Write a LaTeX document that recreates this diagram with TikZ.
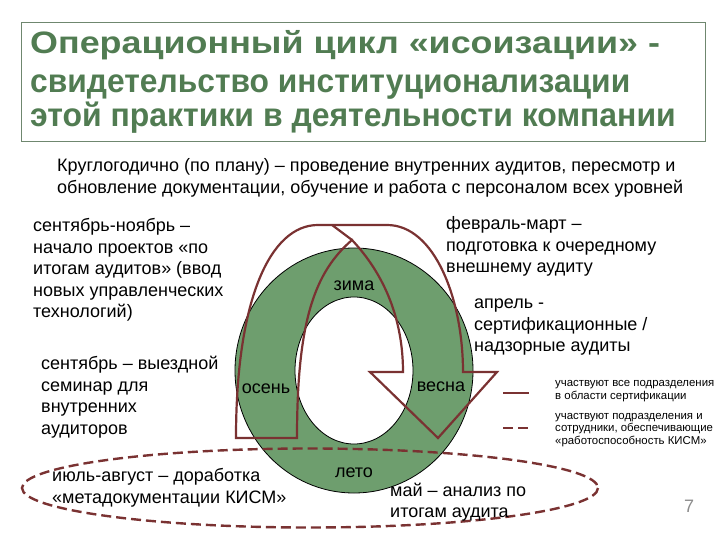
\documentclass[tikz,border=0pt]{standalone}
\usepackage{fontspec}
\usepackage{graphicx}
\setmainfont{Liberation Sans}
\definecolor{ringgreen}{HTML}{6E9E6E}
\definecolor{titlegreen}{HTML}{517C52}
\definecolor{frameline}{HTML}{6F876F}
\definecolor{arrowred}{HTML}{7A3232}
\definecolor{pagegray}{HTML}{8C8C8C}
\begin{document}
\begin{tikzpicture}[x=1pt,y=-1pt,
  txt/.style={anchor=north west, align=left, inner sep=0pt, font=\fontsize{18}{21.5}\selectfont},
  season/.style={anchor=base, inner sep=0pt, font=\fontsize{18}{21.5}\selectfont},
  legendtxt/.style={anchor=north west, align=left, inner sep=0pt, font=\fontsize{11.4}{12.8}\selectfont},
  arrowline/.style={draw=arrowred, line width=2.2pt, line join=miter},
  dashline/.style={draw=arrowred, line width=2.4pt, dash pattern=on 10pt off 5pt}]
\useasboundingbox (0,0) rectangle (720,540);
% title
\draw[frameline, line width=0.8pt] (21,22) rectangle (705,141);
\node[anchor=north west, align=left, inner sep=0pt, text=titlegreen,
      font=\bfseries\fontsize{33}{33.3}\selectfont] (title) at (30,29.7)
  {\strut\scalebox{1.157}[1]{\fontsize{31}{33.3}\selectfont Операционный цикл «исоизации» -}\\[6.4pt]
   \scalebox{0.963}[1]{свидетельство институционализации}\\
   \scalebox{0.968}[1]{этой практики в деятельности компании}};
% subtitle
\node[anchor=north west, align=left, inner sep=0pt, font=\fontsize{18}{22}\selectfont] (sub) at (57,156)
  {\strut Круглогодично (по плану) – проведение внутренних аудитов, пересмотр и\\
   обновление документации, обучение и работа с персоналом всех уровней};
% ring
\fill[ringgreen, draw=black, line width=0.8pt, even odd rule]
  (354,370.5) ellipse [x radius=119, y radius=122.5]
  (354,370.5) ellipse [x radius=59, y radius=73.5];
% curved block arrow
\draw[arrowline] (236,438) .. controls (236,300) and (270,225) .. (318,225)
  -- (387,225) .. controls (435,225) and (463,300) .. (463,372)
  -- (497,372) -- (438,438) -- (370,372) -- (403,372)
  .. controls (403,320) and (385,275) .. (352,240)
  .. controls (315,272) and (297,320) .. (297,438) -- cycle;
\draw[arrowline] (332,225) -- (352,240);
% dashed ellipse
\draw[dashline] (310,488) ellipse [x radius=288, y radius=39.5];
% season labels
\node[season] (zima) at (354,290.7) {зима};
\node[season] (osen) at (266,393.3) {осень};
\node[season] (vesna) at (441,391.7) {весна};
\node[season] (leto) at (354,477) {лето};
% side texts
\node[txt] (sepnov) at (33,216.5) {\strut сентябрь-ноябрь –\\начало проектов «по\\итогам аудитов» (ввод\\новых управленческих\\технологий)};
\node[txt] (sep) at (41,354.5) {\strut сентябрь – выездной\\семинар для\\внутренних\\аудиторов};
\node[txt] (julaug) at (52,466.6) {\strut июль-август – доработка\\«метадокументации КИСМ»};
\node[txt] (febmar) at (446,214.3) {\strut февраль-март –\\подготовка к очередному\\внешнему аудиту};
\node[txt] (apr) at (474,293.3) {\strut апрель -\\сертификационные /\\надзорные аудиты};
\node[txt] (may) at (390,481) {\strut май – анализ по\\итогам аудита};
% legend
\draw[arrowline] (503,393) -- (529,393);
\draw[dashline] (503,428) -- (531,428);
\node[legendtxt] (leg1) at (555,377.5) {\strut участвуют все подразделения\\в области сертификации};
\node[legendtxt] (leg2) at (555,410) {\strut участвуют подразделения и\\сотрудники, обеспечивающие\\«работоспособность КИСМ»};
% page number
\node[anchor=base, inner sep=0pt, text=pagegray, font=\fontsize{18}{20}\selectfont] (page) at (689,512.7) {7};
\end{tikzpicture}
\end{document}
